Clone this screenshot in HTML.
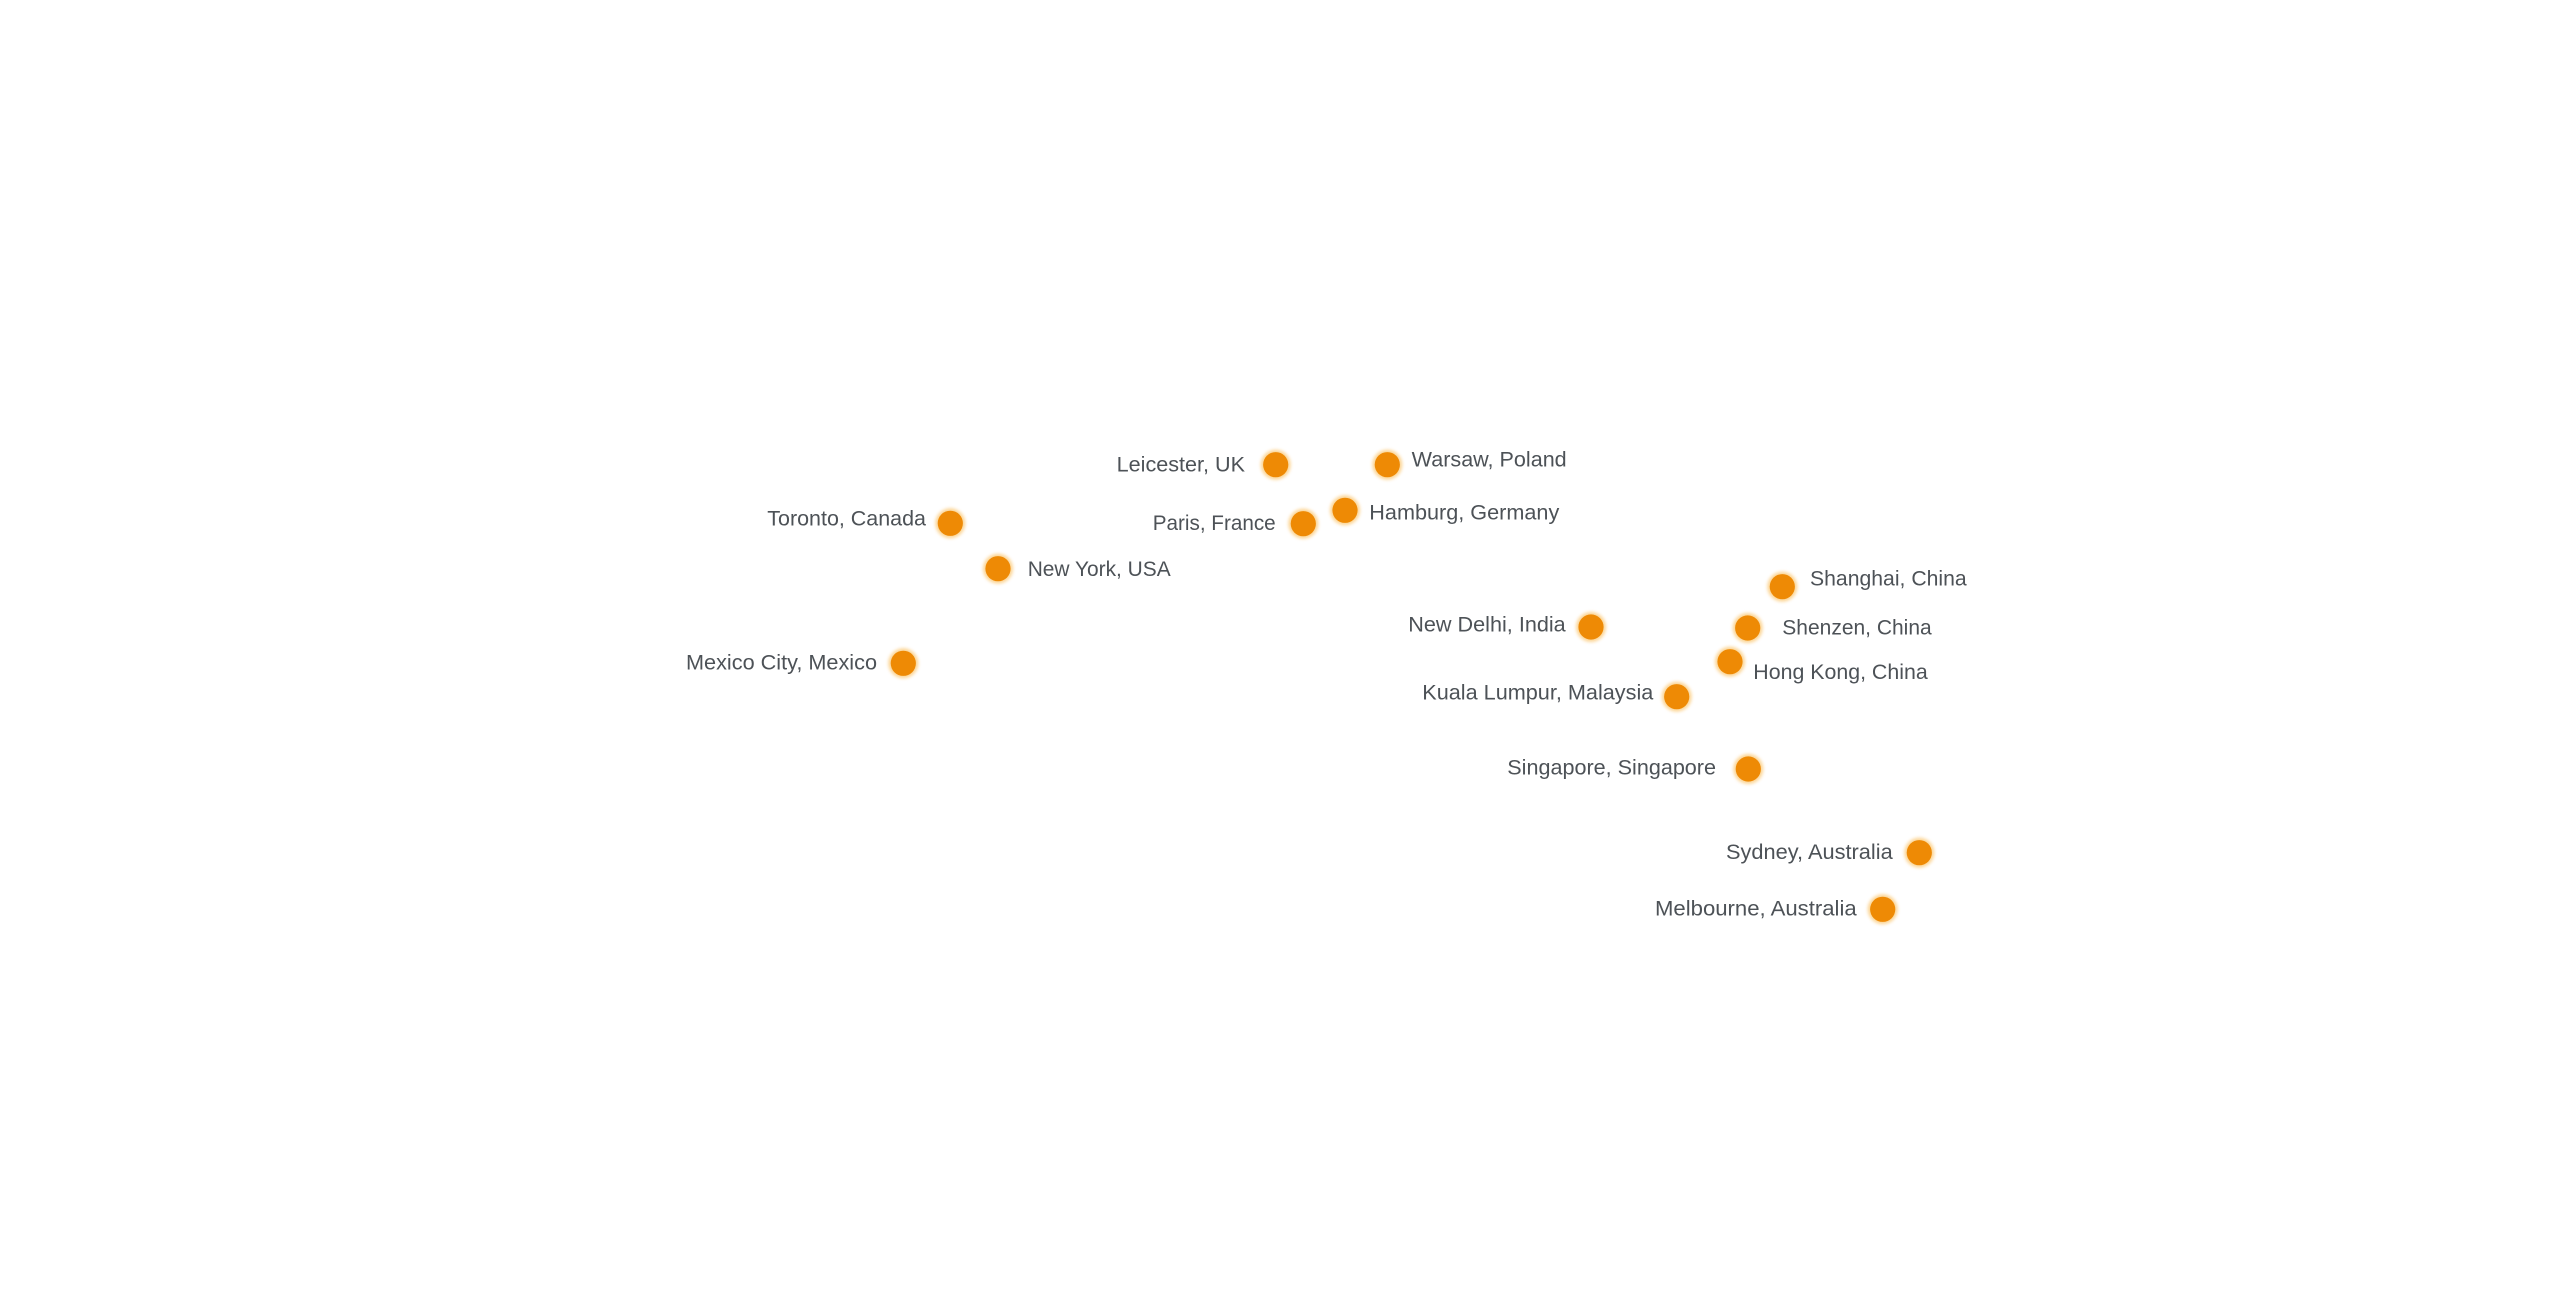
<!DOCTYPE html>
<html>
<head>
<meta charset="utf-8">
<style>
  html, body { margin: 0; padding: 0; background: #ffffff; }
  body { width: 2560px; height: 1299px; overflow: hidden; }
  svg { display: block; }
  text { font-family: "Liberation Sans", "DejaVu Sans", sans-serif; font-size: 21px; fill: #4d5257; }
</style>
</head>
<body>
<svg width="2560" height="1299" viewBox="0 0 2560 1299" xmlns="http://www.w3.org/2000/svg">
  <defs>
    <filter id="glow" x="-50%" y="-50%" width="200%" height="200%">
      <feGaussianBlur stdDeviation="1.6"/>
    </filter>
    <g id="dot">
      <circle r="15" fill="#fbc873" opacity="0.75" filter="url(#glow)"/>
      <circle r="12.6" fill="#ee8a05"/>
    </g>
  </defs>

  <!-- dots -->
  <use href="#dot" x="950.3" y="523.3"/>
  <use href="#dot" x="998" y="568.7"/>
  <use href="#dot" x="903.3" y="663.3"/>
  <use href="#dot" x="1275.7" y="464.7"/>
  <use href="#dot" x="1387.3" y="464.7"/>
  <use href="#dot" x="1303.3" y="523.7"/>
  <use href="#dot" x="1345" y="510.3"/>
  <use href="#dot" x="1591" y="627"/>
  <use href="#dot" x="1676.7" y="696.7"/>
  <use href="#dot" x="1782.3" y="586.7"/>
  <use href="#dot" x="1747.7" y="628"/>
  <use href="#dot" x="1730" y="661.7"/>
  <use href="#dot" x="1748.3" y="769"/>
  <use href="#dot" x="1919.3" y="852.7"/>
  <use href="#dot" x="1882.7" y="909.3"/>

  <!-- labels -->
  <text x="767.3" y="525.7" textLength="158.7" lengthAdjust="spacingAndGlyphs">Toronto, Canada</text>
  <text x="1027.7" y="576" textLength="143" lengthAdjust="spacingAndGlyphs">New York, USA</text>
  <text x="686" y="669.3" textLength="191" lengthAdjust="spacingAndGlyphs">Mexico City, Mexico</text>
  <text x="1116.7" y="471.7" textLength="128.3" lengthAdjust="spacingAndGlyphs">Leicester, UK</text>
  <text x="1411.7" y="466.7" textLength="155" lengthAdjust="spacingAndGlyphs">Warsaw, Poland</text>
  <text x="1152.7" y="530" textLength="123" lengthAdjust="spacingAndGlyphs">Paris, France</text>
  <text x="1369.3" y="519.3" textLength="190" lengthAdjust="spacingAndGlyphs">Hamburg, Germany</text>
  <text x="1408.3" y="631.7" textLength="157.4" lengthAdjust="spacingAndGlyphs">New Delhi, India</text>
  <text x="1422.3" y="699.3" textLength="231" lengthAdjust="spacingAndGlyphs">Kuala Lumpur, Malaysia</text>
  <text x="1810" y="585.7" textLength="156.7" lengthAdjust="spacingAndGlyphs">Shanghai, China</text>
  <text x="1782.3" y="634.3" textLength="149.4" lengthAdjust="spacingAndGlyphs">Shenzen, China</text>
  <text x="1753.3" y="679" textLength="174.4" lengthAdjust="spacingAndGlyphs">Hong Kong, China</text>
  <text x="1507.3" y="774.7" textLength="208.7" lengthAdjust="spacingAndGlyphs">Singapore, Singapore</text>
  <text x="1726" y="859" textLength="166.7" lengthAdjust="spacingAndGlyphs">Sydney, Australia</text>
  <text x="1655" y="915.7" textLength="201.7" lengthAdjust="spacingAndGlyphs">Melbourne, Australia</text>
</svg>
</body>
</html>
